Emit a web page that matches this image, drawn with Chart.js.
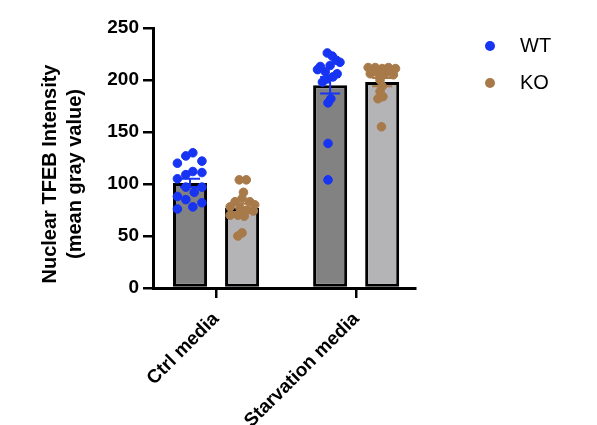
<!DOCTYPE html>
<html>
<head>
<meta charset="utf-8">
<script src="https://cdn.jsdelivr.net/npm/chart.js@4"></script>
<style>
	body { margin: 0; background: #fff; }
	#wrap { position: relative; width: 597px; height: 425px; }
	#legend-container { position: absolute; left: 485px; top: 27px; font-family: 'Liberation Sans', Arial, sans-serif; }
</style>
</head>
<body>
<div id="wrap">
	<canvas id="chart" width="597" height="425"></canvas>
	<div id="legend-container"></div>
</div>
<script>
const groups = ['Ctrl media', 'Starvation media'];
const yTitle = ['Nuclear TFEB Intensity', '(mean gray value)'];
const yTicks = [0, 50, 100, 150, 200, 250];

// bar heights (mean) and error bars (SEM)
const wtMean = [101, 195];
const koMean = [77, 198];
const wtSem = [4, 8];
const koSem = [4, 4];

// individual cells, with horizontal jitter in category units
const wtCtrl = [120, 127, 130, 122, 105, 109, 112, 111, 97, 92, 97, 88, 85, 78, 82, 76];
const wtCtrlJit = [-0.09, -0.03, 0.02, 0.085, -0.09, -0.03, 0.02, 0.085, -0.03, 0.03, 0.085, -0.09, -0.03, 0.02, 0.085, -0.09];
const koCtrl = [104, 104, 92, 86, 83, 83, 80, 78, 77, 75, 70, 70, 69, 74, 53, 50];
const koCtrlJit = [-0.02, 0.03, 0.01, 0, -0.05, 0.055, 0.09, -0.085, -0.015, 0.035, -0.085, -0.03, 0.015, 0.08, 0, -0.03];
const wtStarv = [226, 223, 217, 213, 214, 208, 210, 206, 203, 198, 201, 182, 178, 139, 104, 219];
const wtStarvJit = [-0.02, 0.015, 0.07, -0.07, 0, -0.035, -0.09, 0.05, 0.02, -0.055, -0.02, 0.005, -0.015, -0.015, -0.015, 0.045];
const koStarv = [212, 212, 211, 212, 211, 206, 207, 206, 205, 200, 194, 189, 182, 184, 155, 209];
const koStarvJit = [-0.1, -0.05, 0, 0.045, 0.095, -0.085, -0.035, 0.02, 0.08, -0.015, 0, -0.015, -0.03, 0.005, -0.005, 0.045];

const WT_COLOR = '#1634f2';
const KO_COLOR = '#a87a4a';
const CAT_PCT = 0.743;
const BAR_PCT = 0.654;

Chart.defaults.font.family = "'Liberation Sans', Arial, Helvetica, sans-serif";
Chart.defaults.color = '#000';

const getOrCreateLegendList = (id) => {
	const legendContainer = document.getElementById(id);
	let listContainer = legendContainer.querySelector('ul');

	if (!listContainer) {
		listContainer = document.createElement('ul');
		listContainer.style.display = 'flex';
		listContainer.style.flexDirection = 'column';
		listContainer.style.listStyle = 'none';
		listContainer.style.margin = 0;
		listContainer.style.padding = 0;

		legendContainer.appendChild(listContainer);
	}

	return listContainer;
};

const htmlLegendPlugin = {
	id: 'htmlLegend',
	afterUpdate(chart, args, options) {
		const ul = getOrCreateLegendList(options.containerID);

		while (ul.firstChild) {
			ul.firstChild.remove();
		}

		// only the dot series get an entry
		const items = chart.options.plugins.legend.labels.generateLabels(chart)
			.filter(item => chart.data.datasets[item.datasetIndex].type === 'scatter');

		items.forEach(item => {
			const li = document.createElement('li');
			li.style.display = 'flex';
			li.style.alignItems = 'center';
			li.style.height = '37px';

			const dot = document.createElement('span');
			dot.style.display = 'inline-block';
			dot.style.width = '10px';
			dot.style.height = '10px';
			dot.style.borderRadius = '50%';
			dot.style.background = chart.data.datasets[item.datasetIndex].backgroundColor;
			dot.style.marginRight = '25px';

			const text = document.createElement('p');
			text.style.margin = 0;
			text.style.padding = 0;
			text.style.fontSize = '20px';
			text.style.color = '#000';
			text.appendChild(document.createTextNode(item.text));

			li.appendChild(dot);
			li.appendChild(text);
			ul.appendChild(li);
		});
	}
};

// mean +/- SEM whiskers on top of the bars
const errorBarPlugin = {
	id: 'errorBars',
	afterDatasetsDraw(chart) {
		const ctx = chart.ctx;
		const yScale = chart.scales.y;
		chart.data.datasets.forEach((ds, i) => {
			if (ds.type !== 'bar') return;
			const meta = chart.getDatasetMeta(i);
			meta.data.forEach((bar, k) => {
				const top = yScale.getPixelForValue(ds.data[k].y + ds.sem[k]);
				const bottom = yScale.getPixelForValue(ds.data[k].y - ds.sem[k]);
				ctx.save();
				ctx.strokeStyle = ds.errorColor;
				ctx.lineWidth = 2;
				ctx.beginPath();
				ctx.moveTo(bar.x, top);
				ctx.lineTo(bar.x, bottom);
				ctx.moveTo(bar.x - 10, top);
				ctx.lineTo(bar.x + 10, top);
				ctx.moveTo(bar.x - 10, bottom);
				ctx.lineTo(bar.x + 10, bottom);
				ctx.stroke();
				ctx.restore();
			});
		});
	}
};

const yTitlePlugin = {
	id: 'yTitle',
	afterDraw(chart, args, options) {
		const ctx = chart.ctx;
		ctx.save();
		ctx.font = 'bold 20px ' + Chart.defaults.font.family;
		ctx.fillStyle = '#000';
		ctx.textAlign = 'center';
		ctx.textBaseline = 'alphabetic';
		options.lines.forEach((line, i) => {
			ctx.save();
			ctx.translate(options.x[i], options.y);
			ctx.rotate(-Math.PI / 2);
			ctx.fillText(line, 0, 0);
			ctx.restore();
		});
		ctx.restore();
	}
};

const createChartTfeb = (canvas) => {
	const shift = CAT_PCT / 4;
	const dots = (lists, jits, side) => {
		let out = [];
		lists.forEach((vals, g) => {
			vals.forEach((v, k) => out.push({ x: g + side * shift + jits[g][k], y: v }));
		});
		return out;
	};

	const data = {
		datasets: [
			{
				type: 'scatter',
				label: 'WT',
				data: dots([wtCtrl, wtStarv], [wtCtrlJit, wtStarvJit], -1),
				backgroundColor: WT_COLOR,
				borderColor: WT_COLOR,
				pointRadius: 4.3,
				borderWidth: 1,
				order: 0,
			},
			{
				type: 'scatter',
				label: 'KO',
				data: dots([koCtrl, koStarv], [koCtrlJit, koStarvJit], 1),
				backgroundColor: KO_COLOR,
				borderColor: KO_COLOR,
				pointRadius: 4.3,
				borderWidth: 1,
				order: 0,
			},
			{
				type: 'bar',
				label: 'WT mean',
				data: wtMean.map((v, i) => ({ x: i, y: v })),
				sem: wtSem,
				errorColor: WT_COLOR,
				backgroundColor: '#828282',
				borderColor: '#000',
				borderWidth: 3,
				borderSkipped: false,
				categoryPercentage: CAT_PCT,
				barPercentage: BAR_PCT,
				order: 1,
			},
			{
				type: 'bar',
				label: 'KO mean',
				data: koMean.map((v, i) => ({ x: i, y: v })),
				sem: koSem,
				errorColor: KO_COLOR,
				backgroundColor: '#b4b4b7',
				borderColor: '#000',
				borderWidth: 3,
				borderSkipped: false,
				categoryPercentage: CAT_PCT,
				barPercentage: BAR_PCT,
				order: 1,
			},
		]
	};

	const config = {
		type: 'bar',
		data: data,
		options: {
			responsive: false,
			animation: false,
			devicePixelRatio: 1,
			layout: {
				padding: { left: 0, top: 28, right: 182, bottom: 0 }
			},
			plugins: {
				htmlLegend: {
					containerID: 'legend-container',
				},
				yTitle: {
					lines: yTitle,
					x: [56, 81],
					y: 174,
				},
				legend: {
					display: false,
				},
				tooltip: {
					enabled: false,
				}
			},
			scales: {
				x: {
					type: 'linear',
					min: -0.45,
					max: 1.42,
					offset: false,
					afterBuildTicks: (scale) => {
						scale.ticks = groups.map((g, i) => ({ value: i }));
					},
					afterFit: (scale) => {
						scale.height = 137;
					},
					ticks: {
						autoSkip: false,
						minRotation: 45,
						maxRotation: 45,
						padding: 10,
						font: { size: 19, weight: 'bold' },
						callback: (value) => groups[value],
					},
					grid: {
						offset: false,
						drawOnChartArea: false,
						drawTicks: true,
						tickLength: 10,
						color: '#000',
						lineWidth: 2.5,
					},
					border: {
						color: '#000',
						width: 3,
					}
				},
				y: {
					min: 0,
					max: 250,
					afterBuildTicks: (scale) => {
						scale.ticks = yTicks.map(v => ({ value: v }));
					},
					afterFit: (scale) => {
						scale.width = 153;
					},
					ticks: {
						padding: 4,
						font: { size: 19, weight: 'bold' },
					},
					grid: {
						drawOnChartArea: false,
						drawTicks: true,
						tickLength: 10,
						color: '#000',
						lineWidth: 2.5,
					},
					border: {
						color: '#000',
						width: 3,
					}
				}
			}
		},
		plugins: [htmlLegendPlugin, errorBarPlugin, yTitlePlugin],
	};

	const ctx = canvas.getContext('2d');
	return new Chart(ctx, config);
};

createChartTfeb(document.getElementById('chart'));
</script>
</body>
</html>
